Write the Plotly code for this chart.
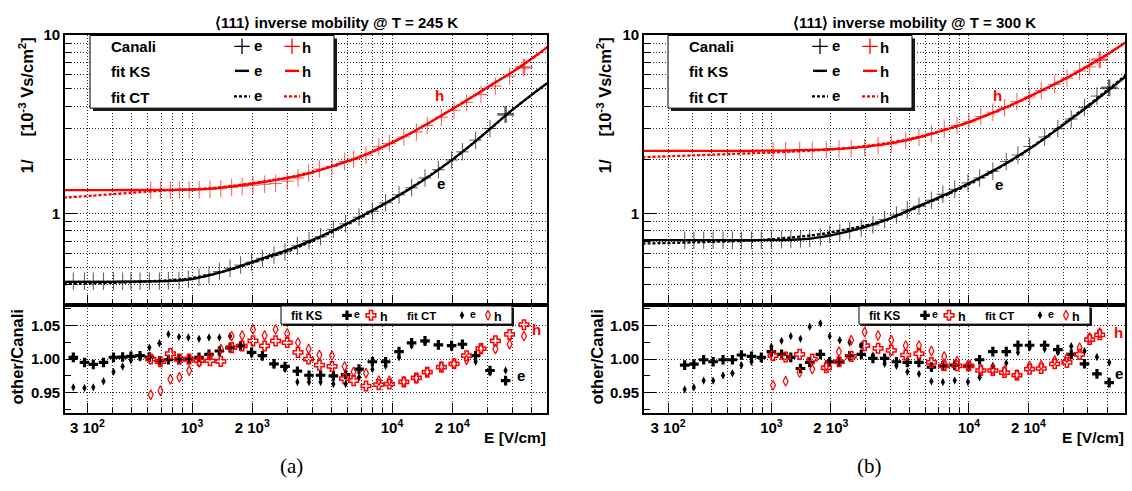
import plotly.graph_objects as go

W, H = 1132, 491

# ================= T = 245 K  (panel a) =================
E_e245 = [255, 290, 321, 361, 405, 450, 495, 550, 612, 687, 762, 861, 959, 1084, 1216, 1371,
          1549, 1750, 1986, 2249, 2570, 2917, 3365, 3846, 4395, 5093, 5861, 6839, 7980, 9290,
          10840, 12530, 14620, 17060, 19860, 22490, 26180, 30900, 36980]
canali_e245 = [0.418, 0.418, 0.418, 0.418, 0.418, 0.418, 0.418, 0.418, 0.418, 0.419, 0.420,
               0.422, 0.428, 0.440, 0.455, 0.474, 0.494, 0.515, 0.535, 0.562, 0.587, 0.612,
               0.661, 0.705, 0.742, 0.815, 0.877, 0.955, 1.03, 1.15, 1.275, 1.396, 1.585,
               1.763, 2.0, 2.22, 2.58, 3.0, 3.6]
ks_ratio_e245 = [1.0025, 0.995, 0.992, 0.995, 1.0025, 1.003, 1.004, 1.005, 1.003, 0.9975, 0.999,
                 0.999, 0.999, 1.0025, 1.007, 1.012, 1.017, 1.0195, 1.01, 1.005, 0.993, 0.989,
                 0.982, 0.976, 0.976, 0.975, 0.977, 0.985, 0.996, 0.996, 1.011, 1.024, 1.027,
                 1.021, 1.02, 1.022, 1.005, 0.983, 0.968]
ct_ratio_e245 = [0.958, 0.957, 0.958, 0.967, 0.981, 0.989, 0.998, 1.002, 1.017, 1.0235, 1.037,
                 1.033, 1.032, 1.03, 1.032, 1.032, 1.034, 1.02, 1.007, 1.0025, 0.991, 0.985,
                 0.966, 0.966, 0.966, 0.963, 0.963, 0.973, 0.985, 0.99, 1.0025, 1.02, 1.025,
                 1.02, 1.017, 1.02, 0.996, 0.98, 0.983]
E_h245 = [622, 695, 780, 865, 968, 1086, 1230, 1393, 1578, 1782, 2018, 2307, 2618, 2992, 3388,
          3828, 4335, 5012, 5794, 6427, 7413, 8590, 9705, 11460, 13240, 15000, 17660, 20420,
          23600, 27860, 32890, 38730, 45710]
canali_h245 = [1.356, 1.356, 1.356, 1.358, 1.36, 1.362, 1.37, 1.38, 1.40, 1.42, 1.44, 1.46, 1.476,
               1.52, 1.585, 1.688, 1.777, 1.838, 1.959, 2.02, 2.13, 2.37, 2.47, 2.69, 2.87, 3.12,
               3.47, 3.8, 4.2, 4.66, 5.18, 5.89, 6.6]
ks_ratio_h245 = [1.0, 0.996, 1.008, 1.0, 1.0, 0.9975, 0.9975, 0.9965, 1.017, 1.0195, 1.027, 1.0195,
                 1.027, 1.0245, 1.01, 1.0, 0.991, 0.989, 0.971, 0.968, 0.96, 0.962, 0.963, 0.966,
                 0.972, 0.9805, 0.988, 0.993, 1.005, 1.0155, 1.027, 1.0365, 1.051]
ct_ratio_h245 = [0.947, 0.953, 0.97, 0.973, 0.983, 0.995, 1.005, 1.015, 1.034, 1.035, 1.044, 1.035,
                 1.044, 1.038, 1.0245, 1.015, 1.006, 1.005, 0.989, 0.981, 0.979, 0.968, 0.968,
                 0.967, 0.9715, 0.981, 0.989, 0.993, 0.999, 1.015, 1.015, 1.022, 1.034]
E_fit245 = [228, 316, 398, 501, 631, 794, 1000, 1259, 1585, 1995, 2512, 3162, 3981, 5012, 6310,
            7943, 10000, 12589, 15849, 19953, 25119, 31623, 39811, 50119, 60000]
ks_fit_e245 = [0.415, 0.415, 0.415, 0.416, 0.417, 0.42, 0.43, 0.455, 0.49, 0.535, 0.585, 0.64,
               0.71, 0.8, 0.91, 1.04, 1.2, 1.4, 1.66, 2.0, 2.45, 3.05, 3.8, 4.65, 5.4]
ct_fit_e245 = [0.403, 0.406, 0.409, 0.413, 0.418, 0.424, 0.435, 0.457, 0.488, 0.53, 0.575, 0.63,
               0.70, 0.79, 0.90, 1.03, 1.2, 1.41, 1.67, 2.0, 2.45, 3.05, 3.8, 4.65, 5.4]
ks_fit_h245 = [1.356, 1.356, 1.356, 1.357, 1.358, 1.36, 1.365, 1.38, 1.42, 1.47, 1.53, 1.6, 1.7,
               1.84, 2.0, 2.22, 2.5, 2.85, 3.3, 3.85, 4.5, 5.3, 6.2, 7.4, 8.6]
ct_fit_h245 = [1.23, 1.26, 1.285, 1.31, 1.335, 1.355, 1.37, 1.39, 1.43, 1.48, 1.54, 1.61, 1.71,
               1.85, 2.01, 2.22, 2.5, 2.85, 3.3, 3.85, 4.5, 5.3, 6.2, 7.4, 8.6]

# ================= T = 300 K  (panel b) =================
E_e300 = [364, 405, 454, 507, 569, 635, 705, 793, 889, 1000, 1125, 1253, 1403, 1563, 1770, 1972,
          2218, 2489, 2851, 3266, 3741, 4295, 4875, 5585, 6457, 7379, 8472, 9886, 11324, 13213,
          15453, 17701, 20277, 24155, 28184, 32961, 38459, 44463, 51286]
canali_e300 = [0.71, 0.71, 0.71, 0.71, 0.71, 0.71, 0.71, 0.71, 0.71, 0.712, 0.715, 0.718, 0.722,
               0.727, 0.74, 0.763, 0.783, 0.806, 0.83, 0.865, 0.927, 0.984, 1.05, 1.1, 1.19, 1.284,
               1.368, 1.487, 1.585, 1.726, 1.96, 2.13, 2.38, 2.69, 2.99, 3.39, 3.94, 4.56, 5.07]
ks_ratio_e300 = [0.991, 0.9925, 0.999, 0.996, 0.999, 0.999, 1.006, 1.004, 1.0025, 1.011, 1.007,
                 1.0025, 0.986, 0.995, 1.007, 0.996, 0.996, 1.005, 1.007, 1.001, 1.001, 0.996,
                 0.995, 0.995, 0.988, 0.99, 0.991, 0.989, 0.999, 1.011, 1.011, 1.0205, 1.0205,
                 1.0205, 1.014, 1.007, 0.993, 0.978, 0.965]
ct_ratio_e300 = [0.955, 0.958, 0.968, 0.968, 0.9755, 0.979, 0.991, 0.996, 1.0, 1.0185, 1.027,
                 1.034, 1.03, 1.048, 1.053, 1.034, 1.028, 1.0245, 1.0205, 1.005, 0.993, 0.99,
                 0.981, 0.978, 0.967, 0.966, 0.968, 0.966, 0.973, 0.99, 0.994, 1.01, 1.017, 1.015,
                 1.01, 1.019, 1.012, 1.003, 0.995]
E_h300 = [1019, 1180, 1390, 1611, 1897, 2198, 2535, 2965, 3467, 4046, 4786, 5585, 6457, 7499,
          8710, 10000, 11482, 13213, 15136, 17498, 20277, 23227, 27164, 31333, 36308, 40832, 45920]
canali_h300 = [2.25, 2.255, 2.26, 2.27, 2.28, 2.30, 2.32, 2.35, 2.40, 2.46, 2.56, 2.68, 2.8, 2.98,
               3.12, 3.27, 3.5, 3.7, 3.92, 4.25, 4.5, 4.9, 5.3, 5.75, 6.3, 6.65, 7.3]
ks_ratio_h300 = [1.005, 1.003, 1.007, 1.0, 0.987, 0.996, 1.004, 1.02, 1.016, 1.013, 1.006, 1.008,
                 0.995, 0.99, 0.99, 0.99, 0.983, 0.983, 0.98, 0.976, 0.985, 0.986, 0.993, 0.995,
                 1.007, 1.029, 1.036]
ct_ratio_h300 = [0.961, 0.967, 0.98, 0.985, 0.99, 1.011, 1.028, 1.04, 1.035, 1.028, 1.02, 1.02,
                 1.012, 1.004, 0.997, 0.99, 0.985, 0.985, 0.983, 0.977, 0.99, 0.991, 0.998, 1.002,
                 1.017, 1.032, 1.039]
E_fit300 = [222, 316, 398, 501, 631, 794, 1000, 1259, 1585, 1995, 2512, 3162, 3981, 5012, 6310,
            7943, 10000, 12589, 15849, 19953, 25119, 31623, 39811, 50119, 62000]
ks_fit_e300 = [0.71, 0.71, 0.71, 0.71, 0.71, 0.71, 0.71, 0.712, 0.725, 0.755, 0.8, 0.86, 0.94,
               1.05, 1.17, 1.31, 1.48, 1.69, 1.95, 2.28, 2.72, 3.28, 3.97, 4.85, 5.85]
ct_fit_e300 = [0.68, 0.685, 0.69, 0.695, 0.70, 0.707, 0.72, 0.735, 0.755, 0.785, 0.825, 0.87,
               0.935, 1.04, 1.16, 1.29, 1.46, 1.67, 1.94, 2.29, 2.74, 3.32, 4.02, 4.92, 5.95]
ks_fit_h300 = [2.25, 2.25, 2.25, 2.25, 2.25, 2.25, 2.255, 2.26, 2.275, 2.295, 2.33, 2.39, 2.48,
               2.6, 2.78, 3.0, 3.26, 3.6, 4.0, 4.5, 5.1, 5.8, 6.7, 7.8, 9.1]
ct_fit_h300 = [2.07, 2.1, 2.12, 2.14, 2.16, 2.18, 2.20, 2.225, 2.255, 2.29, 2.34, 2.41, 2.5,
               2.62, 2.79, 3.0, 3.26, 3.6, 4.0, 4.5, 5.1, 5.8, 6.7, 7.8, 9.1]

# ================= axis ticks =================
x_tickvals = [300, 1000, 2000, 10000, 20000]
x_ticktext = ["3 10<sup>2</sup>", "10<sup>3</sup>", "2 10<sup>3</sup>", "10<sup>4</sup>", "2 10<sup>4</sup>"]
x_minorvals = [400, 500, 600, 700, 800, 900, 3000, 4000, 5000, 6000, 7000, 8000, 9000,
               30000, 40000, 50000]
ytop_tickvals = [1, 10]
ytop_ticktext = ["1", "10"]
ytop_minorvals = [0.4, 0.5, 0.6, 0.7, 0.8, 0.9, 2, 3, 4, 5, 6, 7, 8, 9]
ybot_tickvals = [0.95, 1.0, 1.05]
ybot_ticktext = ["0.95", "1.00", "1.05"]
ybot_minorvals = [0.925, 0.975, 1.025, 1.075]

titles = ["\u27e8111\u27e9 inverse mobility @ T = 245 K", "\u27e8111\u27e9 inverse mobility @ T = 300 K"]
captions = ["(a)", "(b)"]

FONT = "Liberation Sans, Arial, Helvetica, sans-serif"
SERIF = "Liberation Serif, Times New Roman, serif"
RED = "#ff0000"
GRIDC = "#2a2a2a"
GDASH = "1px,2px"


def px(x):
    return x / W


def py(y):
    return 1 - y / H


fig = go.Figure()

panels = [
    dict(E_e=E_e245, c_e=canali_e245, ks_r_e=ks_ratio_e245, ct_r_e=ct_ratio_e245,
         E_h=E_h245, c_h=canali_h245, ks_r_h=ks_ratio_h245, ct_r_h=ct_ratio_h245,
         E_f=E_fit245, ks_e=ks_fit_e245, ct_e=ct_fit_e245, ks_h=ks_fit_h245, ct_h=ct_fit_h245,
         xl=65, xr=547, xrange=[2.365, 4.775], dx=0,
         lab_top=[(439, 88), (441, 177.5)], lab_bot=[(536, 326), (521, 373)],
         ytitle_x=26, rtitle_x=17),
    dict(E_e=E_e300, c_e=canali_e300, ks_r_e=ks_ratio_e300, ct_r_e=ct_ratio_e300,
         E_h=E_h300, c_h=canali_h300, ks_r_h=ks_ratio_h300, ct_r_h=ct_ratio_h300,
         E_f=E_fit300, ks_e=ks_fit_e300, ct_e=ct_fit_e300, ks_h=ks_fit_h300, ct_h=ct_fit_h300,
         xl=644, xr=1125, xrange=[2.355, 4.79], dx=578,
         lab_top=[(997, 88), (999, 179)], lab_bot=[(1118, 330), (1119, 371)],
         ytitle_x=604, rtitle_x=597),
]

Y_TOP, Y_MID, Y_BOT = 26.7, 301.7, 411.5
tickfont = dict(family=FONT, size=15, color="black", weight="bold")
layout_axes = {}
annotations = []


def ann(text, x, y, size=15, color="black", xanchor="center", family=FONT, weight="bold",
        angle=0):
    annotations.append(dict(text=text, x=px(x), y=py(y), xref="paper", yref="paper",
                            showarrow=False, xanchor=xanchor, yanchor="middle",
                            textangle=angle, borderpad=0,
                            font=dict(family=family, size=size, color=color, weight=weight)))


legend_traces = []

for i, p in enumerate(panels):
    xt, yt = ("x", "y") if i == 0 else ("x3", "y3")
    xb, yb = ("x2", "y2") if i == 0 else ("x4", "y4")
    dom_x = [px(p["xl"]), px(p["xr"])]
    common_x = dict(type="log", domain=dom_x, range=p["xrange"], autorange=False,
                    tickmode="array", tickvals=x_tickvals, ticks="inside", ticklen=10,
                    tickwidth=1, tickcolor="black",
                    minor=dict(tickmode="array", tickvals=x_minorvals, ticks="inside", ticklen=5,
                               tickcolor="black", showgrid=True, gridcolor=GRIDC, griddash=GDASH,
                               gridwidth=1),
                    showgrid=True, gridcolor=GRIDC, griddash=GDASH, gridwidth=1,
                    showline=True, linecolor="black", linewidth=1.8, mirror=True,
                    zeroline=False, tickfont=tickfont)
    ax_top_x = dict(common_x, anchor=yt, showticklabels=False, ticktext=x_ticktext)
    ax_bot_x = dict(common_x, anchor=yb, showticklabels=True, ticktext=x_ticktext)
    ax_top_y = dict(type="log", domain=[py(Y_MID), py(Y_TOP)], range=[-0.513, 1.0],
                    autorange=False, anchor=xt, tickmode="array", tickvals=ytop_tickvals,
                    ticktext=ytop_ticktext, ticks="inside", ticklen=12, tickcolor="black",
                    minor=dict(tickmode="array", tickvals=ytop_minorvals, ticks="inside",
                               ticklen=6, tickcolor="black", showgrid=True, gridcolor=GRIDC,
                               griddash=GDASH, gridwidth=1),
                    showgrid=True, gridcolor=GRIDC, griddash=GDASH, gridwidth=1,
                    showline=True, linecolor="black", linewidth=1.8, mirror=True,
                    zeroline=False, tickfont=tickfont)
    ax_bot_y = dict(type="linear", domain=[py(Y_BOT), py(Y_MID)], range=[0.92, 1.08],
                    autorange=False, anchor=xb, tickmode="array", tickvals=ybot_tickvals,
                    ticktext=ybot_ticktext, ticks="inside", ticklen=12, tickcolor="black",
                    minor=dict(tickmode="array", tickvals=ybot_minorvals, ticks="inside",
                               ticklen=6, tickcolor="black", showgrid=False),
                    showgrid=True, gridcolor=GRIDC, griddash=GDASH, gridwidth=1,
                    showline=True, linecolor="black", linewidth=1.8, mirror=True,
                    zeroline=False, tickfont=tickfont)
    names = ["xaxis", "yaxis", "xaxis2", "yaxis2"] if i == 0 else ["xaxis3", "yaxis3", "xaxis4", "yaxis4"]
    layout_axes[names[0]] = ax_top_x
    layout_axes[names[1]] = ax_top_y
    layout_axes[names[2]] = ax_bot_x
    layout_axes[names[3]] = ax_bot_y

    # ---- top: Canali points drawn as error-bar crosses (last one bold) ----
    for E, v, col in [(p["E_e"], p["c_e"], "rgba(0,0,0,0.85)"),
                      (p["E_h"], p["c_h"], "rgba(255,0,0,0.85)")]:
        n = len(E)
        lw = [1.1] * (n - 1) + [2.6]
        fig.add_trace(go.Scatter(
            x=E, y=v, xaxis=xt, yaxis=yt, mode="markers",
            marker=dict(symbol="line-ns", size=[12.5] * (n - 1) + [12],
                        line=dict(color=col, width=lw), color=col)))
        fig.add_trace(go.Scatter(
            x=E, y=v, xaxis=xt, yaxis=yt, mode="markers",
            marker=dict(symbol="line-ew", size=[9] * (n - 1) + [12],
                        line=dict(color=col, width=lw), color=col)))
    # ---- top: fits ----
    for v, col, dash in [(p["ks_e"], "black", "solid"), (p["ks_h"], RED, "solid"),
                         (p["ct_e"], "black", "3px,2px"), (p["ct_h"], RED, "3px,2px")]:
        fig.add_trace(go.Scatter(
            x=p["E_f"], y=v, xaxis=xt, yaxis=yt, mode="lines",
            line=dict(color=col, width=2.3, dash=dash, shape="spline", smoothing=0.6)))
    # ---- bottom: ratios ----
    fig.add_trace(go.Scatter(x=p["E_e"], y=p["ks_r_e"], xaxis=xb, yaxis=yb, mode="markers",
                             marker=dict(symbol="cross", size=8, color="black", line=dict(width=0))))
    fig.add_trace(go.Scatter(x=p["E_h"], y=p["ks_r_h"], xaxis=xb, yaxis=yb, mode="markers",
                             marker=dict(symbol="cross-open", size=8, color=RED,
                                         line=dict(color=RED, width=1.5))))
    fig.add_trace(go.Scatter(x=p["E_e"], y=p["ct_r_e"], xaxis=xb, yaxis=yb, mode="markers",
                             marker=dict(symbol="diamond-tall", size=6, color="black",
                                         line=dict(width=0))))
    fig.add_trace(go.Scatter(x=p["E_h"], y=p["ct_r_h"], xaxis=xb, yaxis=yb, mode="markers",
                             marker=dict(symbol="diamond-tall-open", size=7, color=RED,
                                         line=dict(color=RED, width=1.2))))

    dx = p["dx"]
    # ---- legends (drawn on a full-figure overlay axis pair, pixel units) ----
    lt = legend_traces
    lt.append(go.Scatter(x=[93 + dx, 337 + dx, 337 + dx, 93 + dx, 93 + dx],
                         y=[30, 30, 104, 104, 30], mode="lines",
                         fill="toself", fillcolor="#1a1a1a", line=dict(width=0)))
    lt.append(go.Scatter(x=[90 + dx, 334 + dx, 334 + dx, 90 + dx, 90 + dx],
                         y=[27, 27, 101, 101, 27], mode="lines",
                         fill="toself", fillcolor="white", line=dict(width=1, color="black")))
    lt.append(go.Scatter(x=[242 + dx, 292 + dx], y=[38, 38], mode="markers",
                         marker=dict(symbol="cross-thin", size=11, color=["black", RED],
                                     line=dict(width=1.3, color=["black", RED]))))
    for xs, col, dash, yrow in [([235, 249], "black", "solid", 63), ([285, 299], RED, "solid", 63),
                                ([234, 250], "black", "3px,2px", 89), ([284, 300], RED, "3px,2px", 89)]:
        lt.append(go.Scatter(x=[xs[0] + dx, xs[1] + dx], y=[yrow, yrow], mode="lines",
                             line=dict(color=col, width=2.4, dash=dash)))
    lt.append(go.Scatter(x=[283 + dx, 514 + dx, 514 + dx, 283 + dx, 283 + dx],
                         y=[304.5, 304.5, 323, 323, 304.5],
                         mode="lines", fill="toself", fillcolor="#1a1a1a", line=dict(width=0)))
    lt.append(go.Scatter(x=[281 + dx, 512 + dx, 512 + dx, 281 + dx, 281 + dx],
                         y=[302.5, 302.5, 321, 321, 302.5],
                         mode="lines", fill="toself", fillcolor="white",
                         line=dict(width=1, color="black")))
    lt.append(go.Scatter(x=[347 + dx], y=[312], mode="markers",
                         marker=dict(symbol="cross", size=8, color="black", line=dict(width=0))))
    lt.append(go.Scatter(x=[371 + dx], y=[312], mode="markers",
                         marker=dict(symbol="cross-open", size=8, color=RED,
                                     line=dict(color=RED, width=1.5))))
    lt.append(go.Scatter(x=[462 + dx], y=[312], mode="markers",
                         marker=dict(symbol="diamond-tall", size=6, color="black",
                                     line=dict(width=0))))
    lt.append(go.Scatter(x=[488 + dx], y=[312], mode="markers",
                         marker=dict(symbol="diamond-tall-open", size=7, color=RED,
                                     line=dict(color=RED, width=1.2))))

    # top legend text
    ann("Canali", 110 + dx, 38.5, 15, xanchor="left")
    ann("fit KS", 110 + dx, 63.5, 15, xanchor="left")
    ann("fit CT", 110 + dx, 90, 15, xanchor="left")
    for yrow in (37, 62.5, 88.5):
        ann("e", 258 + dx, yrow, 15)
    for yrow in (39.5, 64, 90):
        ann("h", 306 + dx, yrow, 15)
    # bottom legend text
    ann("fit KS", 290 + dx, 312.5, 12, xanchor="left")
    ann("e", 357 + dx, 310.5, 10.5)
    ann("h", 384 + dx, 313.5, 12.5)
    ann("fit CT", 406 + dx, 312.5, 11.5, xanchor="left")
    ann("e", 473 + dx, 310.5, 10.5)
    ann("h", 498 + dx, 313.5, 12.5)
    # curve labels
    (hx, hy), (ex, ey) = p["lab_top"]
    ann("h", hx, hy, 15, RED)
    ann("e", ex, ey, 15)
    (hx, hy), (ex, ey) = p["lab_bot"]
    ann("h", hx, hy, 15, RED)
    ann("e", ex, ey, 15)
    # titles & axis titles
    ann(titles[i], 336 + dx, 13.5, 15)
    ann("1/\u00a0\u00a0\u00a0\u00a0\u00a0[10<sup>-3</sup> Vs/cm<sup>2</sup>]", p["ytitle_x"], 98,
        16.5, angle=-90)
    ann("other/Canali", p["rtitle_x"], 355, 16.5, angle=-90)
    ann("E [V/cm]", p["xr"], 437, 15.5, xanchor="right")
    ann(captions[i], 291 + dx, 466, 21, family=SERIF, weight="normal")

for tr in legend_traces:
    tr.update(xaxis="x5", yaxis="y5")
    fig.add_trace(tr)

layout_axes["xaxis5"] = dict(domain=[0, 1], range=[0, W], autorange=False, visible=False,
                             fixedrange=True, anchor="y5")
layout_axes["yaxis5"] = dict(domain=[0, 1], range=[H, 0], autorange=False, visible=False,
                             fixedrange=True, anchor="x5")

fig.update_layout(
    width=W, height=H, margin=dict(l=0, r=0, t=0, b=0, pad=0),
    paper_bgcolor="white", plot_bgcolor="rgba(0,0,0,0)", showlegend=False,
    annotations=annotations, **layout_axes)

fig.write_html("out.html", config={"displayModeBar": False},
               post_script="document.body.style.margin='0';")
